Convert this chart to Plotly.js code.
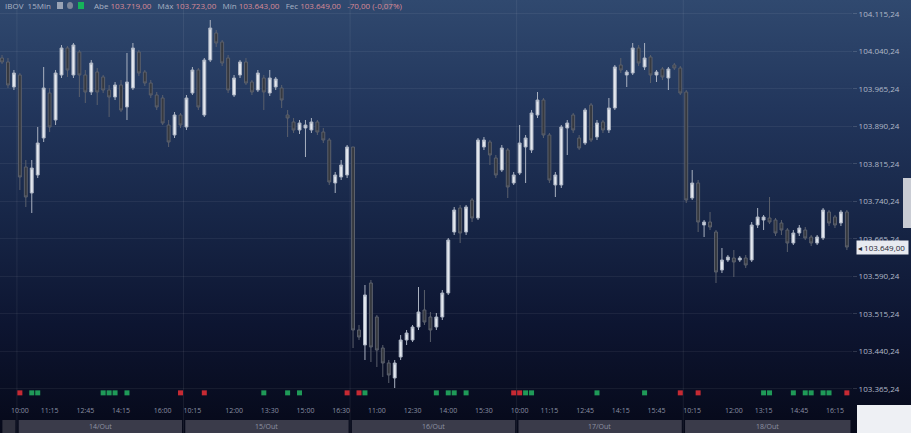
<!DOCTYPE html>
<html>
<head>
<meta charset="utf-8">
<script src="https://cdn.plot.ly/plotly-3.0.1.min.js"></script>
<style>
html,body{margin:0;padding:0;width:911px;height:433px;overflow:hidden;
background:linear-gradient(to bottom,#30496f 0%,#22365c 25%,#172647 50%,#0d1531 75%,#060919 100%);}
#chart{width:911px;height:433px;}
</style>
</head>
<body>
<div id="chart"></div>
<script>
// ---- data (15-minute candles, IBOV) ----
const openP = [104027,104019,103969,103993,103809,103757,103793,103867,103957,103903,
103993,104047,103993,104039,103993,103959,103999,103989,103963,103949,
103973,103929,103967,104039,103999,103977,103953,103947,103893,103873,
103913,103889,103957,104003,103913,104023,104077,104059,104027,103953,
103993,104019,103979,103963,103987,103957,103969,103967,103913,103899,
103883,103887,103883,103899,103879,103863,103777,103789,103793,103849,
103483,103453,103577,103509,103447,103417,103387,103429,103463,103463,
103489,103523,103509,103489,103509,103557,103679,103727,103679,103743,
103707,103849,103859,103827,103803,103843,103777,103797,103849,103843,
103913,103943,103873,103773,103773,103887,103913,103867,103857,103933,
103869,103899,103883,103927,104013,103993,103997,104047,104009,104029,
103993,104005,103987,104013,104007,103959,103747,103777,103693,103699,
103679,103603,103623,103627,103623,103627,103623,103693,103703,103707,
103703,103697,103683,103657,103677,103683,103669,103657,103667,103719,
103709,103697,103719];
const highP = [104033,104027,104003,103997,103823,103823,103889,104009,103967,104003,
104053,104051,104057,104043,104003,104023,104007,103993,103973,103979,
103983,104037,104057,104043,104003,103983,103959,103953,103903,103919,
103917,103953,104009,104007,104027,104103,104083,104063,104033,103993,
104023,104027,103983,104003,103993,104003,103989,103973,103923,103907,
103903,103903,103907,103903,103887,103867,103799,103823,103853,103849,
103493,103573,103583,103513,103453,103423,103423,103473,103483,103493,
103569,103563,103519,103517,103563,103667,103729,103733,103733,103747,
103867,103869,103863,103833,103853,103847,103799,103893,103873,103923,
103959,103947,103877,103799,103893,103903,103917,103873,103927,103937,
103903,103903,103947,104013,104027,104003,104057,104053,104057,104033,
104003,104009,104009,104017,104011,103963,103803,103783,103703,103719,
103683,103647,103633,103643,103631,103633,103699,103727,103713,103749,
103707,103703,103687,103683,103693,103689,103673,103673,103727,103723,
103713,103723,103723];
const lowP = [104015,103967,103963,103763,103729,103717,103787,103859,103879,103893,
103987,103989,103987,103949,103937,103953,103933,103957,103909,103943,
103919,103903,103963,103991,103971,103947,103923,103893,103849,103867,
103887,103883,103953,103923,103909,104019,104049,104011,103957,103949,
103987,103973,103953,103959,103923,103951,103963,103927,103869,103877,
103875,103829,103877,103873,103857,103773,103757,103783,103787,103447,
103463,103423,103419,103409,103389,103377,103367,103423,103453,103459,
103483,103493,103459,103483,103503,103553,103673,103657,103673,103699,
103703,103843,103813,103787,103799,103747,103773,103793,103777,103837,
103907,103867,103777,103749,103767,103833,103877,103843,103853,103859,
103863,103877,103877,103923,103997,103969,103993,104011,104003,103977,
103979,103983,103963,104003,103953,103737,103743,103679,103669,103683,
103577,103597,103619,103589,103619,103607,103619,103687,103683,103695,
103671,103673,103639,103653,103671,103663,103651,103653,103663,103691,
103687,103691,103643];
const closeP = [104019,103973,103997,103789,103749,103807,103857,103967,103889,103997,
104047,104003,104053,103993,103959,104017,103959,103963,103949,103973,
103923,103979,104047,103997,103977,103953,103929,103897,103859,103913,
103893,103947,104003,103929,104023,104087,104057,104017,103963,103987,
104019,103977,103959,103997,103959,103987,103985,103943,103907,103883,
103897,103893,103899,103879,103863,103779,103793,103813,103849,103483,
103469,103553,103449,103443,103417,103393,103417,103463,103477,103489,
103519,103499,103483,103509,103557,103663,103723,103677,103729,103707,
103863,103863,103833,103793,103847,103769,103793,103857,103867,103917,
103943,103873,103783,103793,103889,103897,103883,103847,103923,103863,
103897,103883,103927,104009,104003,103999,104047,104017,104027,103993,
103999,103989,104005,104007,103957,103743,103777,103699,103699,103689,
103599,103623,103629,103619,103627,103613,103693,103709,103709,103699,
103677,103683,103657,103677,103687,103667,103657,103669,103723,103697,
103693,103719,103649];

// axis labels
const yTickVals = [104115.24,104040.24,103965.24,103890.24,103815.24,103740.24,103665.24,103590.24,103515.24,103440.24,103365.24];
const yTickText = ["104.115,24","104.040,24","103.965,24","103.890,24","103.815,24","103.740,24","103.665,24","103.590,24","103.515,24","103.440,24","103.365,24"];
const xTickIdx = [3,8,14,20,27,32,39,45,51,57,63,69,75,81,87,92,98,104,110,116,123,128,134,140];
const xTickText = ["10:00","11:15","12:45","14:15","16:00","10:15","12:00","13:30","15:00","16:30","11:00","12:30","14:00","15:30","10:00","11:15","12:45","14:15","15:45","10:15","12:00","13:15","14:45","16:15"];
const dayStarts = [-0.34,2.5,30.5,58.5,86.5,114.5];
const dayLabels = ["","14/Out","15/Out","16/Out","17/Out","18/Out"];
const sigRedIdx = [3,30,34,58,60,86,87,114,117,142];
const sigGreenIdx = [5,6,17,18,19,21,44,48,50,61,73,75,76,78,88,89,100,108,128,129,133,135,136,138,139];

const idx = openP.map((_, i) => i);
const fmt = v => {
  const neg = v < 0; v = Math.abs(v);
  const s = v.toFixed(2).split('.');
  const ip = s[0].replace(/\B(?=(\d{3})+(?!\d))/g, '.');
  return (neg ? '-' : '') + ip + ',' + s[1];
};
const n = closeP.length - 1;
const lastO = openP[n], lastH = highP[n], lastL = lowP[n], lastC = closeP[n];
const chg = lastC - closeP[n - 1];
const pct = chg / closeP[n - 1] * 100;

const W = 911, H = 433, ML = 0, MR = 59, MT = 0, MB = 28;
const PW = W - ML - MR, PH = H - MT - MB;
const px = p => p / PW;            // pixel x -> paper
const py = p => (PH - p) / PH;     // pixel y -> paper

const candle = {
  type: 'candlestick', x: idx, open: openP, high: highP, low: lowP, close: closeP,
  increasing: {line: {color: '#a9b1c0', width: 1}, fillcolor: '#e4e8ef'},
  decreasing: {line: {color: '#5b606c', width: 1}, fillcolor: '#36393f'},
  whiskerwidth: 0, hoverinfo: 'skip', showlegend: false
};
const sigR = {type: 'scatter', mode: 'markers', x: sigRedIdx, y: sigRedIdx.map(() => 0.03), yaxis: 'y2',
  marker: {symbol: 'square', size: 5, color: '#c62a33'}, hoverinfo: 'skip', showlegend: false};
const sigG = {type: 'scatter', mode: 'markers', x: sigGreenIdx, y: sigGreenIdx.map(() => 0.03), yaxis: 'y2',
  marker: {symbol: 'square', size: 5, color: '#1f9a58'}, hoverinfo: 'skip', showlegend: false};

const shapes = [];
const annotations = [];
// day separators and bottom day bar
for (let d = 0; d < dayStarts.length; d++) {
  const x0 = dayStarts[d], x1 = d + 1 < dayStarts.length ? dayStarts[d + 1] : 142.86;
  if (d > 0) shapes.push({type: 'line', xref: 'x', yref: 'paper', x0: x0, x1: x0, y0: py(433), y1: 1,
    line: {color: 'rgba(255,255,255,0.07)', width: 1}, layer: 'below'});
  shapes.push({type: 'rect', xref: 'x', yref: 'paper', x0: x0 + (d > 0 ? 0.3 : 0.4), x1: x1 - 0.25,
    y0: py(433), y1: py(420), fillcolor: d > 0 ? '#3a3b4a' : '#30313e', line: {width: 0}, layer: 'below'});
  if (dayLabels[d]) annotations.push({xref: 'x', yref: 'paper', x: (x0 + x1) / 2, y: py(426.5), text: dayLabels[d],
    showarrow: false, font: {size: 7, color: '#8e93a4', family: 'Open Sans'}, yanchor: 'middle'});
}
// right side elements
shapes.push({type: 'rect', xref: 'paper', yref: 'paper', x0: px(903), x1: px(911), y0: py(228), y1: py(178),
  fillcolor: '#c9ccd4', line: {width: 0}});
shapes.push({type: 'rect', xref: 'paper', yref: 'paper', x0: px(857), x1: px(911), y0: py(433), y1: py(405),
  fillcolor: '#eef0f4', line: {width: 0}});
// header icons
shapes.push({type: 'rect', xref: 'paper', yref: 'paper', x0: px(57), x1: px(63), y0: py(9), y1: py(2),
  fillcolor: '#9aa3b5', line: {width: 0}});
shapes.push({type: 'circle', xref: 'paper', yref: 'paper', x0: px(67), x1: px(73), y0: py(9), y1: py(2),
  fillcolor: '#7d8699', line: {width: 0}});
shapes.push({type: 'rect', xref: 'paper', yref: 'paper', x0: px(78), x1: px(84), y0: py(9), y1: py(2),
  fillcolor: '#16b35a', line: {width: 0}});
shapes.push({type: 'rect', xref: 'paper', yref: 'paper', x0: px(382), x1: px(392), y0: py(10), y1: py(0),
  fillcolor: 'rgba(255,255,255,0.08)', line: {width: 0}});

const red = '#d98a96', lab = '#a8b2c4';
annotations.push({xref: 'paper', yref: 'paper', x: px(3), y: py(5.5), xanchor: 'left', yanchor: 'middle',
  text: 'IBOV  15Min', showarrow: false, font: {size: 8, color: '#aab3c4', family: 'Open Sans'}});
annotations.push({xref: 'paper', yref: 'paper', x: px(92), y: py(5.5), xanchor: 'left', yanchor: 'middle',
  showarrow: false, font: {size: 8, color: lab, family: 'Open Sans'},
  text: 'Abe <span style="color:' + red + '">' + fmt(lastO) + '</span>   Máx <span style="color:' + red + '">' + fmt(lastH) +
        '</span>   Mín <span style="color:' + red + '">' + fmt(lastL) + '</span>   Fec <span style="color:' + red + '">' + fmt(lastC) +
        '   ' + fmt(chg) + ' (' + fmt(pct) + '%)</span>'});
// last price tag
annotations.push({xref: 'paper', yref: 'y', x: px(856), y: lastC, xanchor: 'left', yanchor: 'middle',
  text: '◂ ' + fmt(lastC) + ' ', showarrow: false, bgcolor: '#e8eaf0', borderpad: 1,
  font: {size: 8, color: '#222634', family: 'Open Sans'}});

const layout = {
  width: W, height: H,
  margin: {l: ML, r: MR, t: MT, b: MB, pad: 0},
  paper_bgcolor: 'rgba(0,0,0,0)', plot_bgcolor: 'rgba(0,0,0,0)',
  showlegend: false, dragmode: false,
  xaxis: {range: [-0.34, 142.86], rangeslider: {visible: false}, showgrid: false, zeroline: false,
    tickmode: 'array', tickvals: xTickIdx, ticktext: xTickText, ticks: '', ticklen: 0,
    tickfont: {size: 7, color: '#8a90a2', family: 'Open Sans'}, fixedrange: true},
  yaxis: {range: [103333, 104143], side: 'right', tickmode: 'array', tickvals: yTickVals, ticktext: yTickText,
    gridcolor: 'rgba(255,255,255,0.06)', gridwidth: 1, zeroline: false, ticks: 'outside', ticklen: 4,
    tickcolor: 'rgba(255,255,255,0.15)', tickfont: {size: 8, color: '#b1b9c8', family: 'Open Sans'}, fixedrange: true},
  yaxis2: {range: [0, 1], overlaying: 'y', visible: false, fixedrange: true},
  shapes: shapes, annotations: annotations
};
Plotly.newPlot('chart', [candle, sigR, sigG], layout, {displayModeBar: false, staticPlot: true});
</script>
</body>
</html>
